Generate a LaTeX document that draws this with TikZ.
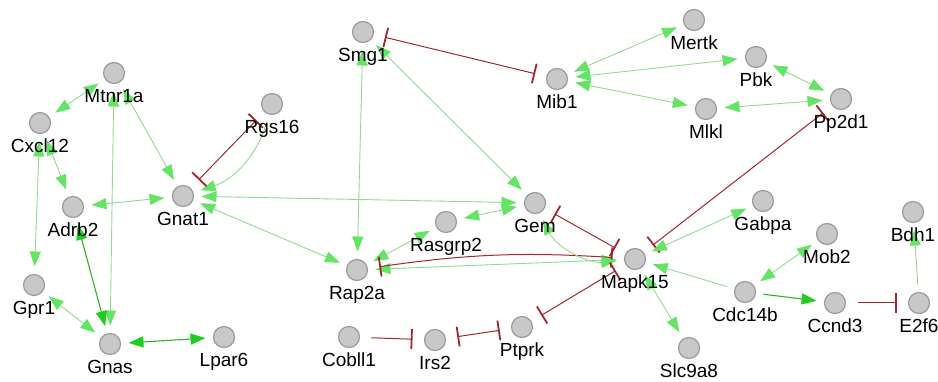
\documentclass[tikz,border=0pt]{standalone}
\usepackage{fontspec}
\setmainfont{Liberation Sans}
\usetikzlibrary{arrows.meta,backgrounds}
\definecolor{lgl}{RGB}{145,218,145}
\definecolor{lga}{RGB}{100,228,100}
\definecolor{dgl}{RGB}{45,180,45}
\definecolor{dga}{RGB}{30,205,30}
\definecolor{inhc}{RGB}{160,40,45}
\definecolor{nfill}{RGB}{200,200,200}
\definecolor{ndraw}{RGB}{155,155,155}
\tikzset{
  gtip/.tip={Triangle[length=15pt,width=11pt,fill=lga,color=lga]},
  dtip/.tip={Triangle[length=15pt,width=11pt,fill=dga,color=dga]},
  rbar/.tip={Bar[width=20pt,line width=1.8pt]},
}
\begin{document}
\begin{tikzpicture}[x=1pt,y=1pt,
  gene/.style={circle,fill=nfill,draw=ndraw,line width=1.2pt,minimum size=21pt,inner sep=0pt,outer sep=0pt},
  lbl/.style={anchor=base,inner sep=0pt,font=\fontsize{19}{21}\selectfont},
  act/.style={draw=lgl,line width=0.9pt,gtip-gtip,shorten >=8pt,shorten <=8pt},
  act1/.style={draw=lgl,line width=0.9pt,-gtip,shorten >=8pt,shorten <=8pt},
  dact/.style={draw=dgl,line width=1.1pt,dtip-dtip,shorten >=8pt,shorten <=8pt},
  dact1/.style={draw=dgl,line width=1.1pt,-dtip,shorten >=8pt,shorten <=8pt},
  inh/.style={draw=inhc,line width=1pt,rbar-rbar,shorten >=12pt,shorten <=12pt},
  inh1/.style={draw=inhc,line width=1pt,-rbar,shorten >=12pt,shorten <=12pt},
]
\useasboundingbox (0,0) rectangle (938,-382);
% nodes
\node[gene] (mtnr1a) at (114,-73) {};
\node[gene] (cxcl12) at (40,-123) {};
\node[gene] (rgs16) at (272,-104) {};
\node[gene] (adrb2) at (73,-207) {};
\node[gene] (gnat1) at (183,-196) {};
\node[gene] (gpr1) at (34,-285) {};
\node[gene] (gnas) at (110,-344) {};
\node[gene] (lpar6) at (224,-337) {};
\node[gene] (smg1) at (363,-32) {};
\node[gene] (mib1) at (557,-79) {};
\node[gene] (mertk) at (694,-20) {};
\node[gene] (pbk) at (756,-57) {};
\node[gene] (pp2d1) at (841,-99) {};
\node[gene] (mlkl) at (706,-109) {};
\node[gene] (gem) at (535,-203) {};
\node[gene] (rasgrp2) at (446,-222) {};
\node[gene] (rap2a) at (357,-270) {};
\node[gene] (cobll1) at (349,-337) {};
\node[gene] (irs2) at (435,-340) {};
\node[gene] (ptprk) at (522,-327) {};
\node[gene] (mapk15) at (635,-259) {};
\node[gene] (gabpa) at (763,-201) {};
\node[gene] (mob2) at (827,-234) {};
\node[gene] (bdh1) at (913,-212) {};
\node[gene] (cdc14b) at (745,-292) {};
\node[gene] (ccnd3) at (835,-303) {};
\node[gene] (e2f6) at (919,-303) {};
\node[gene] (slc9a8) at (689,-348) {};
% labels
\node[lbl] (mtnr1a-t) at (114,-102.5) {Mtnr1a};
\node[lbl] (cxcl12-t) at (40,-152.5) {Cxcl12};
\node[lbl] (rgs16-t) at (272,-133.5) {Rgs16};
\node[lbl] (adrb2-t) at (73,-236.5) {Adrb2};
\node[lbl] (gnat1-t) at (183,-225.5) {Gnat1};
\node[lbl] (gpr1-t) at (34,-314.5) {Gpr1};
\node[lbl] (gnas-t) at (110,-373.5) {Gnas};
\node[lbl] (lpar6-t) at (224,-366.5) {Lpar6};
\node[lbl] (smg1-t) at (363,-61.5) {Smg1};
\node[lbl] (mib1-t) at (557,-108.5) {Mib1};
\node[lbl] (mertk-t) at (694,-49.5) {Mertk};
\node[lbl] (pbk-t) at (756,-86.5) {Pbk};
\node[lbl] (pp2d1-t) at (841,-128.5) {Pp2d1};
\node[lbl] (mlkl-t) at (706,-138.5) {Mlkl};
\node[lbl] (gem-t) at (535,-232.5) {Gem};
\node[lbl] (rasgrp2-t) at (446,-251.5) {Rasgrp2};
\node[lbl] (rap2a-t) at (357,-299.5) {Rap2a};
\node[lbl] (cobll1-t) at (349,-366.5) {Cobll1};
\node[lbl] (irs2-t) at (435,-369.5) {Irs2};
\node[lbl] (ptprk-t) at (522,-356.5) {Ptprk};
\node[lbl] (mapk15-t) at (635,-288.5) {Mapk15};
\node[lbl] (gabpa-t) at (763,-230.5) {Gabpa};
\node[lbl] (mob2-t) at (827,-263.5) {Mob2};
\node[lbl] (bdh1-t) at (913,-241.5) {Bdh1};
\node[lbl] (cdc14b-t) at (745,-321.5) {Cdc14b};
\node[lbl] (ccnd3-t) at (835,-332.5) {Ccnd3};
\node[lbl] (e2f6-t) at (919,-332.5) {E2f6};
\node[lbl] (slc9a8-t) at (689,-377.5) {Slc9a8};
% edges
\begin{scope}[on background layer]
\draw[act] (mtnr1a) -- (cxcl12);
\draw[act] (cxcl12) -- (adrb2);
\draw[act] (cxcl12) -- (gpr1);
\draw[act] (mtnr1a) -- (gnas);
\draw[act] (mtnr1a) -- (gnat1);
\draw[act] (adrb2) -- (gnat1);
\draw[act] (gnat1) -- (gem);
\draw[act] (gnat1) -- (rap2a);
\draw[act] (gpr1) -- (gnas);
\draw[dact] (adrb2) -- (gnas);
\draw[dact] (gnas) -- (lpar6);
\draw[act1] (rgs16) to[bend left=28] (gnat1);
\draw[inh] (rgs16) -- (gnat1);
\draw[act] (smg1) -- (rap2a);
\draw[act] (smg1) -- (gem);
\draw[inh] (smg1) -- (mib1);
\draw[act] (mib1) -- (mertk);
\draw[act] (mib1) -- (pbk);
\draw[act] (mib1) -- (mlkl);
\draw[act] (pbk) -- (pp2d1);
\draw[act] (mlkl) -- (pp2d1);
\draw[inh] (pp2d1) -- (mapk15);
\draw[act] (rasgrp2) -- (gem);
\draw[act] (rasgrp2) -- (rap2a);
\draw[act] (rap2a) -- (mapk15);
\draw[inh] (rap2a) to[bend left=6] (mapk15);
\draw[act] (gem) to[bend right=35] (mapk15);
\draw[inh] (gem) -- (mapk15);
\draw[inh] (ptprk) -- (mapk15);
\draw[inh] (irs2) -- (ptprk);
\draw[inh1] (cobll1) -- (irs2);
\draw[act] (gabpa) -- (mapk15);
\draw[act] (mob2) -- (cdc14b);
\draw[act1] (cdc14b) -- (mapk15);
\draw[dact1] (cdc14b) -- (ccnd3);
\draw[inh1] (ccnd3) -- (e2f6);
\draw[act1] (e2f6) -- (bdh1);
\draw[act] (mapk15) -- (slc9a8);
\end{scope}
\end{tikzpicture}
\end{document}
